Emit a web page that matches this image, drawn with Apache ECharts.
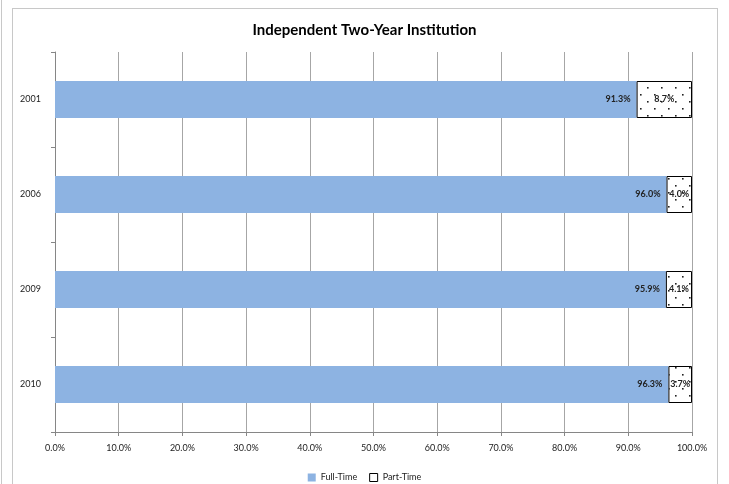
<!DOCTYPE html>
<html><head><meta charset="utf-8">
<script src="https://cdn.jsdelivr.net/npm/echarts@6/dist/echarts.min.js"></script>
<style>html,body{margin:0;padding:0;background:#fff}#frame{position:absolute;left:12px;top:8px;width:706px;height:490px;border:1px solid #c8c8c8;box-sizing:border-box}#edge{position:absolute;left:1px;top:0;width:1px;height:484px;background:#c8c8c8}#c{position:absolute;left:0;top:0;width:729px;height:484px}</style>
</head><body><div id="edge"></div><div id="frame"></div><div id="c"></div>
<script>
const categories = ['2001', '2006', '2009', '2010'];
const fullTime = [91.3, 96.0, 95.9, 96.3];
const partTime = [8.7, 4.0, 4.1, 3.7];
const xTicks = [0, 10, 20, 30, 40, 50, 60, 70, 80, 90, 100];

const pc = document.createElement('canvas');
pc.width = 14; pc.height = 14;
const g = pc.getContext('2d');
g.fillStyle = '#fff'; g.fillRect(0, 0, 14, 14);
g.fillStyle = '#222';
g.fillRect(3, 3, 1.6, 1.6);
g.fillRect(10, 10, 1.6, 1.6);

const font = 'Lato, "Liberation Sans", sans-serif';
const chart = echarts.init(document.getElementById('c'));
chart.setOption({
  animation: false,
  title: { text: 'Independent Two-Year Institution', left: 'center', top: 18,
    textStyle: { fontFamily: font, fontSize: 15, fontWeight: 'bold', color: '#000' } },
  legend: { bottom: 2, left: 'center', padding: 0, itemWidth: 8, itemHeight: 8, itemGap: 12,
    textStyle: { fontFamily: font, fontSize: 9, color: '#222' },
    data: [{ name: 'Full-Time', icon: 'rect', itemStyle: { color: '#8DB3E2' } },
           { name: 'Part-Time', icon: 'rect', itemStyle: { color: '#fff', borderColor: '#000', borderWidth: 1 } }] },
  grid: { left: 55, right: 37, top: 52, bottom: 52, containLabel: false },
  xAxis: { type: 'value', min: 0, max: 100, interval: 10,
    axisLine: { show: true, lineStyle: { color: '#868686' } },
    axisTick: { show: true, length: 4, lineStyle: { color: '#868686' } },
    splitLine: { show: true, lineStyle: { color: '#a6a6a6' } },
    axisLabel: { fontFamily: font, fontSize: 9, color: '#222', margin: 12,
      formatter: v => xTicks.includes(v) ? v.toFixed(1) + '%' : '' } },
  yAxis: { type: 'category', inverse: true, data: categories,
    axisLine: { show: true, lineStyle: { color: '#868686' } },
    axisTick: { show: true, length: 4, lineStyle: { color: '#868686' } },
    axisLabel: { fontFamily: font, fontSize: 9, color: '#222', margin: 14 } },
  series: [
    { name: 'Full-Time', type: 'bar', stack: 't', barWidth: 37, data: fullTime,
      itemStyle: { color: '#8DB3E2' },
      label: { show: true, position: 'insideRight', distance: 6, formatter: p => p.value.toFixed(1) + '%',
        fontFamily: font, fontSize: 9, fontWeight: 'bold', color: '#222' } },
    { name: 'Part-Time', type: 'bar', stack: 't', barWidth: 37, data: partTime,
      itemStyle: { color: { image: pc, repeat: 'repeat' }, borderColor: '#000', borderWidth: 1 },
      label: { show: true, position: 'inside', formatter: p => p.value.toFixed(1) + '%',
        fontFamily: font, fontSize: 9, fontWeight: 'bold', color: '#222' } }
  ]
});
</script></body></html>
